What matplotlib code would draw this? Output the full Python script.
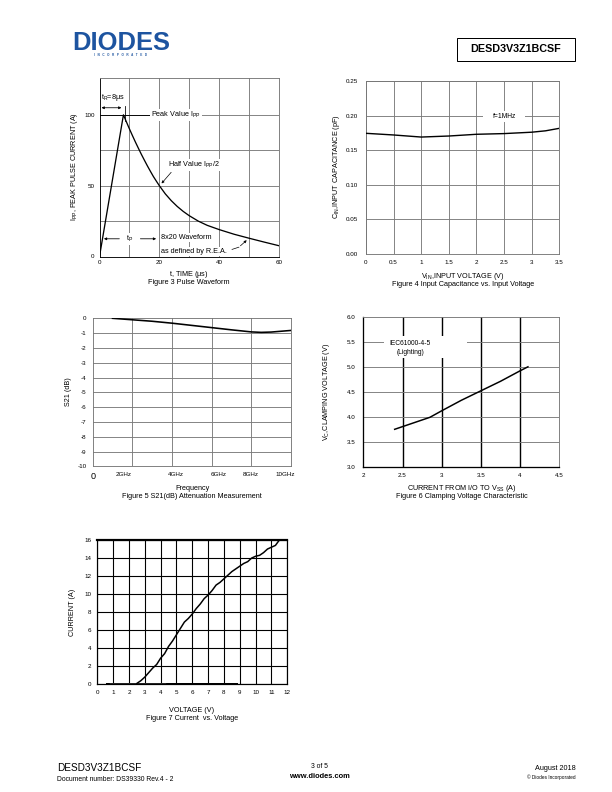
import matplotlib
matplotlib.use('Agg')
import matplotlib.pyplot as plt
from matplotlib.patches import Rectangle

plt.rcParams['font.family'] = ['Liberation Sans', 'DejaVu Sans']
plt.rcParams['mathtext.fontset'] = 'custom'
plt.rcParams['mathtext.rm'] = 'Liberation Sans'
plt.rcParams['mathtext.it'] = 'Liberation Sans:italic'
plt.rcParams['mathtext.default'] = 'regular'
plt.rcParams['axes.unicode_minus'] = False

# ---- data ----
# Figure 3 pulse waveform
pulse_t = [0, 8, 9, 10, 11, 12, 13, 14, 15, 16, 17, 18, 19, 20, 22, 24, 26, 28, 30,
           33, 36, 40, 45, 50, 55, 60]
pulse_i = [0, 100, 95, 90.1, 85.4, 80.8, 76.4, 72.1, 68.0, 64.0, 60.2, 56.5, 53.2, 50,
           44.2, 39.4, 35.3, 31.8, 28.8, 25, 22, 19, 15.7, 12.9, 10.2, 7.6]

# Figure 4 input capacitance
cin_v = [0, 0.5, 1.0, 1.5, 2.0, 2.5, 3.0, 3.25, 3.5]
cin_pf = [0.1744, 0.172, 0.169, 0.1705, 0.173, 0.174, 0.176, 0.178, 0.1816]

# Figure 5 S21
freq_ghz = [1, 2, 3, 4, 5, 6, 7, 8, 8.5, 9, 10]
s21_db = [0, -0.1, -0.2, -0.33, -0.48, -0.63, -0.78, -0.92, -0.95, -0.93, -0.82]
freq_labels = ['2GHz', '4GHz', '6GHz', '8GHz', '10GHz']
freq_label_pos = [1.54, 4.19, 6.33, 7.98, 9.7]

# Figure 6 clamping voltage
clamp_i = [2.4, 2.85, 3.0, 3.25, 3.5, 3.75, 4.0, 4.1]
clamp_v = [3.76, 4.0, 4.13, 4.34, 4.53, 4.72, 4.93, 5.01]

# Figure 7 I-V curve
iv_v = [2.5, 2.75, 3.0, 3.25, 3.5, 3.75, 4.0, 4.25, 4.5, 4.75, 5.0, 5.25, 5.5, 5.75,
        6.0, 6.25, 6.5, 6.75, 7.0, 7.25, 7.5, 7.75, 8.0, 8.25, 8.5, 8.75, 9.0, 9.25,
        9.5, 9.75, 10.0, 10.25, 10.5, 10.75, 11.0, 11.25, 11.5]
iv_i = [0.1, 0.4, 0.8, 1.3, 1.8, 2.2, 2.9, 3.4, 4.2, 4.8, 5.5, 6.2, 6.9, 7.3,
        7.8, 8.4, 8.9, 9.5, 9.9, 10.4, 11.0, 11.3, 11.7, 12.1, 12.5, 12.8, 13.1, 13.4,
        13.6, 14.0, 14.2, 14.3, 14.6, 15.0, 15.2, 15.4, 16.0]

W, H = 612, 792
fig = plt.figure(figsize=(W / 72, H / 72), dpi=72)

TICK = 6.3
LAB = 7.3


def px_axes(x0, y0, x1, y1):
    return fig.add_axes([x0 / W, 1 - y1 / H, (x1 - x0) / W, (y1 - y0) / H])


def px_text(x, y, s, **kw):
    return fig.text(x / W, 1 - y / H, s, **kw)


def style_axes(ax, color='#777777', lw=0.9, xpad=5, ypad=6):
    for sp in ax.spines.values():
        sp.set_color(color)
        sp.set_linewidth(lw)
    ax.tick_params(length=0, labelsize=TICK)
    ax.tick_params(axis='x', pad=xpad)
    ax.tick_params(axis='y', pad=ypad)


grey = '#7a7a7a'
wbox = dict(facecolor='white', edgecolor='none', pad=1.2)

# ---- header / logo ----
px_text(72, 50, 'DIODES', fontsize=25.5, weight='bold', color='#1d54a0')
px_text(121, 55.5, 'I   N   C   O   R   P   O   R   A   T   E   D', fontsize=3, weight='bold',
        color='#1d54a0', ha='center', va='center')
fig.patches.append(Rectangle((457 / W, 1 - 61 / H), 118 / W, 23 / H, transform=fig.transFigure,
                             facecolor='white', edgecolor='black', linewidth=1.0))
px_text(516, 49.5, 'DESD3V3Z1BCSF', fontsize=10.8, weight='bold', ha='center', va='center')

# ---- Figure 3 ----
ax3 = px_axes(99.5, 78, 279, 256.5)
style_axes(ax3, xpad=3, ypad=5)
ax3.spines['left'].set_color('black')
ax3.spines['bottom'].set_color('black')
ax3.set_xlim(0, 60)
ax3.set_ylim(0, 126)
ax3.set_xticks([0, 20, 40, 60])
ax3.set_yticks([0, 50, 100])
for gx in [10, 20, 30, 40, 50]:
    ax3.axvline(gx, color=grey, lw=0.9, zorder=1)
for gy in [25, 50, 75, 100]:
    ax3.axhline(gy, color=grey, lw=0.9, zorder=1)
ax3.plot([0, 17], [100, 100], color='black', lw=0.9, zorder=2)
ax3.plot(pulse_t, pulse_i, color='black', lw=1.3, zorder=3)
ax3.text(4.6, 112.5, r'$t_R$=8$\mu$s', fontsize=LAB, ha='center', va='center', zorder=4)
ax3.annotate('', xy=(0, 105), xytext=(8, 105),
             arrowprops=dict(arrowstyle='<|-|>', color='black', lw=0.8, mutation_scale=5))
ax3.plot([8.4, 8.4], [96, 106.5], color='black', lw=0.8)
ax3.text(25.5, 100, r'Peak Value $I_{PP}$', fontsize=LAB, ha='center', va='center',
         bbox=wbox, zorder=4)
ax3.text(31.5, 64.5, r'Half Value $I_{PP}$/2', fontsize=LAB, ha='center', va='center',
         bbox=wbox, zorder=4)
ax3.annotate('', xy=(20.3, 50.5), xytext=(24.4, 60.5),
             arrowprops=dict(arrowstyle='-|>', color='black', lw=0.7, mutation_scale=5), zorder=5)
ax3.text(10, 12.5, r'$t_P$', fontsize=LAB, ha='center', va='center', bbox=wbox, zorder=4)
ax3.annotate('', xy=(0.8, 12.5), xytext=(7.3, 12.5),
             arrowprops=dict(arrowstyle='-|>', color='black', lw=0.8, mutation_scale=5))
ax3.annotate('', xy=(19.6, 12.5), xytext=(13, 12.5),
             arrowprops=dict(arrowstyle='-|>', color='black', lw=0.8, mutation_scale=5))
ax3.text(20.6, 13.6, '8x20 Waveform', fontsize=LAB, ha='left', va='center', bbox=wbox, zorder=4)
ax3.text(20.6, 3.6, 'as defined by R.E.A.', fontsize=LAB, ha='left', va='center', bbox=wbox, zorder=4)
ax3.plot([44.3, 46.6], [5.0, 6.6], color='black', lw=0.7, zorder=5)
ax3.annotate('', xy=(49.7, 12.4), xytext=(46.6, 6.6),
             arrowprops=dict(arrowstyle='-|>', color='black', lw=0.7, mutation_scale=5), zorder=5)
px_text(75, 167, r'$I_{PP}$, PEAK PULSE CURRENT (A)', fontsize=LAB, rotation=90,
        ha='center', va='center')
px_text(189, 275, r't, TIME ($\mu$s)', fontsize=LAB, ha='center', va='center')
px_text(189, 283, 'Figure 3 Pulse Waveform', fontsize=LAB, ha='center', va='center')

# ---- Figure 4 ----
ax4 = px_axes(366, 81, 559.3, 254)
style_axes(ax4, xpad=6, ypad=8)
ax4.set_xlim(0, 3.5)
ax4.set_ylim(0, 0.25)
ax4.set_xticks([0, 0.5, 1, 1.5, 2, 2.5, 3, 3.5])
ax4.set_xticklabels(['0', '0.5', '1', '1.5', '2', '2.5', '3', '3.5'])
ax4.set_yticks([0, 0.05, 0.10, 0.15, 0.20, 0.25])
ax4.set_yticklabels(['0.00', '0.05', '0.10', '0.15', '0.20', '0.25'])
ax4.grid(True, color=grey, lw=0.9)
ax4.plot(cin_v, cin_pf, color='black', lw=1.4, zorder=3)
ax4.add_patch(Rectangle((2.12, 0.191), 0.76, 0.016, facecolor='white', edgecolor='none', zorder=2.5))
ax4.text(2.5, 0.199, 'f=1MHz', fontsize=6.8, ha='center', va='center', zorder=4)
px_text(336, 167, r'$C_{IN}$,INPUT CAPACITANCE (pF)', fontsize=LAB, rotation=90,
        ha='center', va='center')
px_text(463, 276, r'$V_{IN}$,INPUT VOLTAGE (V)', fontsize=LAB, ha='center', va='center')
px_text(463, 284.5, 'Figure 4 Input Capacitance vs. Input Voltage', fontsize=LAB,
        ha='center', va='center')

# ---- Figure 5 ----
ax5 = px_axes(92.7, 318.3, 291, 466.3)
style_axes(ax5, xpad=6, ypad=6)
ax5.set_xlim(0, 10)
ax5.set_ylim(-10, 0)
ax5.set_yticks(range(-10, 1))
ax5.set_xticks(freq_label_pos)
ax5.set_xticklabels(freq_labels)
for gx in [2, 4, 6, 8]:
    ax5.axvline(gx, color=grey, lw=0.9, zorder=1)
for gy in range(-9, 0):
    ax5.axhline(gy, color=grey, lw=0.9, zorder=1)
ax5.plot(freq_ghz, s21_db, color='black', lw=1.6, zorder=3)
ax5.text(0, -10.4, '0', fontsize=9, ha='center', va='top')
px_text(68, 392, 'S21 (dB)', fontsize=LAB, rotation=90, ha='center', va='center')
px_text(192, 488.5, 'Frequency', fontsize=LAB, ha='center', va='center')
px_text(192, 497, 'Figure 5 S21(dB) Attenuation Measurement', fontsize=LAB,
        ha='center', va='center')

# ---- Figure 6 ----
ax6 = px_axes(363.3, 317.3, 559.3, 467.3)
style_axes(ax6, xpad=6, ypad=8)
ax6.spines['left'].set_color('black')
ax6.spines['left'].set_linewidth(1.3)
ax6.spines['bottom'].set_color('black')
ax6.spines['bottom'].set_linewidth(1.3)
ax6.set_xlim(2, 4.5)
ax6.set_ylim(3, 6)
ax6.set_xticks([2, 2.5, 3, 3.5, 4, 4.5])
ax6.set_xticklabels(['2', '2.5', '3', '3.5', '4', '4.5'])
ax6.set_yticks([3, 3.5, 4, 4.5, 5, 5.5, 6])
ax6.set_yticklabels(['3.0', '3.5', '4.0', '4.5', '5.0', '5.5', '6.0'])
for gx in [2.5, 3, 3.5, 4]:
    ax6.axvline(gx, color='black', lw=1.4, zorder=1)
for gy in [3.5, 4, 4.5, 5, 5.5]:
    ax6.axhline(gy, color=grey, lw=0.9, zorder=1)
ax6.plot(clamp_i, clamp_v, color='black', lw=1.5, zorder=3)
ax6.add_patch(Rectangle((2.27, 5.18), 1.05, 0.44, facecolor='white', edgecolor='none', zorder=2.5))
ax6.text(2.6, 5.38, 'IEC61000-4-5\n(Lighting)', fontsize=6.6, ha='center', va='center',
         linespacing=1.35, zorder=4)
px_text(327, 392, r'$V_C$,CLAMPING VOLTAGE (V)', fontsize=LAB, rotation=90,
        ha='center', va='center')
px_text(462, 488.5, r'CURRENT FROM I/O TO $V_{SS}$ (A)', fontsize=LAB, ha='center', va='center')
px_text(462, 497, 'Figure 6 Clamping Voltage Characteristic', fontsize=LAB,
        ha='center', va='center')

# ---- Figure 7 ----
ax7 = px_axes(97.3, 540, 287.3, 684.3)
style_axes(ax7, color='black', lw=1.2, xpad=6, ypad=6)
ax7.spines['top'].set_linewidth(2.2)
ax7.set_xlim(0, 12)
ax7.set_ylim(0, 16)
ax7.set_xticks(range(0, 13))
ax7.set_yticks(range(0, 17, 2))
ax7.grid(True, color='black', lw=1.1)
ax7.plot([0.6, 8.8], [0, 0], color='black', lw=2.0, zorder=3, clip_on=False)
ax7.plot([0.8, 4.3], [0.08, 0.08], color='#b0b0b0', lw=1.4, zorder=3)
ax7.plot(iv_v, iv_i, color='black', lw=1.5, zorder=4)
px_text(73, 612, 'CURRENT (A)', fontsize=LAB, rotation=90, ha='center', va='center')
px_text(192, 710, 'VOLTAGE (V)', fontsize=LAB, ha='center', va='center')
px_text(192, 719, 'Figure 7 Current  vs. Voltage', fontsize=LAB, ha='center', va='center')

# ---- footer ----
px_text(57, 771, 'DESD3V3Z1BCSF', fontsize=10, ha='left', va='baseline')
px_text(57, 781, 'Document number: DS39330 Rev.4 - 2', fontsize=6.8, ha='left', va='baseline')
px_text(319, 768, '3 of 5', fontsize=6.8, ha='center', va='baseline')
px_text(319, 778, 'www.diodes.com', fontsize=7.5, weight='bold', ha='center', va='baseline')
px_text(576, 770, 'August 2018', fontsize=7.3, ha='right', va='baseline')
px_text(576, 778.5, '© Diodes Incorporated', fontsize=4.8, ha='right', va='baseline')

fig.savefig('out.png', dpi=72, facecolor='white')
